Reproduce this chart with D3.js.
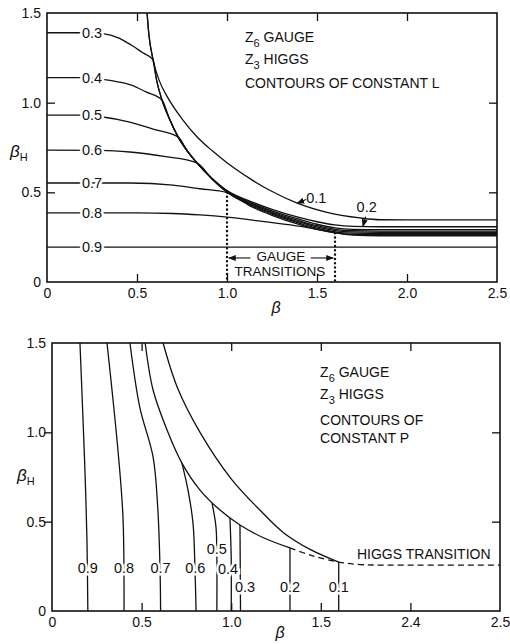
<!DOCTYPE html>
<html>
<head>
<meta charset="utf-8">
<script src="https://cdn.jsdelivr.net/npm/d3@7"></script>
<style>
  body { margin: 0; background: #fff; }
  svg text { font-family: "Liberation Sans", Arial, sans-serif; fill: #111; }
</style>
</head>
<body>
<svg id="fig" width="510" height="644"></svg>
<script>

// ---- axis ticks / labels ----
var xTickVals = [0, 0.5, 1.0, 1.5, 2.0, 2.5];
var topXLabels = ["0", "0.5", "1.0", "1.5", "2.0", "2.5"];
var botXLabels = ["0", "0.5", "1.0", "1.5", "2.4", "2.5"];   // as printed in the original
var yTickVals = [0, 0.5, 1.0, 1.5];
var yLabels = ["0", "0.5", "1.0", "1.5"];
var innerX = [0.5, 1.0, 1.5, 2.0];
var innerY = [0.5, 1.0];

// ---- top panel: contours of constant L  [beta, betaH] ----
var L01 = [[0.556,1.5],[0.566,1.38],[0.589,1.24],[0.625,1.12],[0.667,1.035],[0.75,0.91],[0.833,0.81],[0.92,0.73],[1.0,0.665],[1.13,0.575],[1.24,0.51],[1.39,0.44],[1.55,0.39],[1.74,0.357],[1.85,0.347],[2.0,0.346],[2.5,0.346]];
var L02 = [[0.556,1.5],[0.566,1.38],[0.589,1.24],[0.61,1.12],[0.639,1.015],[0.68,0.91],[0.728,0.809],[0.78,0.73],[0.833,0.664],[0.92,0.575],[1.0,0.51],[1.13,0.45],[1.25,0.405],[1.4,0.36],[1.5,0.336],[1.6,0.318],[1.7,0.31],[1.85,0.308],[2.5,0.308]];
var L03 = [[0,1.39],[0.2,1.39],[0.31,1.385],[0.4,1.36],[0.47,1.32],[0.53,1.28],[0.589,1.24],[0.61,1.12],[0.639,1.015],[0.68,0.91],[0.728,0.809],[0.78,0.73],[0.833,0.664],[0.92,0.574],[1.0,0.507],[1.13,0.443],[1.25,0.397],[1.4,0.35],[1.5,0.322],[1.6,0.302],[1.7,0.294],[1.85,0.292],[2.5,0.292]];
var L04 = [[0,1.14],[0.2,1.14],[0.31,1.13],[0.4,1.115],[0.46,1.1],[0.55,1.06],[0.639,1.015],[0.68,0.91],[0.728,0.809],[0.78,0.73],[0.833,0.664],[0.92,0.573],[1.0,0.505],[1.13,0.438],[1.25,0.39],[1.4,0.342],[1.5,0.314],[1.6,0.294],[1.7,0.286],[1.85,0.284],[2.5,0.284]];
var L05 = [[0,0.93],[0.2,0.93],[0.31,0.92],[0.46,0.892],[0.6,0.85],[0.728,0.809],[0.78,0.73],[0.833,0.664],[0.92,0.572],[1.0,0.502],[1.13,0.433],[1.25,0.384],[1.4,0.335],[1.5,0.307],[1.6,0.287],[1.7,0.279],[1.85,0.277],[2.5,0.277]];
var L06 = [[0,0.735],[0.3,0.734],[0.46,0.725],[0.65,0.7],[0.833,0.664],[0.92,0.571],[1.0,0.5],[1.13,0.428],[1.25,0.378],[1.4,0.328],[1.5,0.3],[1.6,0.28],[1.7,0.272],[1.85,0.27],[2.5,0.27]];
var L07 = [[0,0.552],[0.46,0.552],[0.7,0.54],[0.85,0.52],[1.0,0.498],[1.13,0.423],[1.25,0.372],[1.4,0.321],[1.5,0.293],[1.6,0.274],[1.7,0.266],[1.85,0.264],[2.5,0.264]];
var L08 = [[0,0.385],[0.5,0.385],[0.7,0.382],[0.85,0.374],[1.0,0.362],[1.22,0.335],[1.41,0.31],[1.6,0.275],[1.7,0.262],[1.85,0.258],[2.5,0.258]];
var L09 = [[0,0.195],[2.5,0.195]];
var lLines = [L01, L02, L03, L04, L05, L06, L07, L08, L09];
// label text, beta, betaH
var lLabels = [["0.3",0.25,1.39],["0.4",0.25,1.14],["0.5",0.25,0.93],["0.6",0.25,0.735],["0.7",0.25,0.552],["0.8",0.25,0.385],["0.9",0.25,0.195]];
var gaugeBeta = [1.0, 1.6];
var gaugeTop = [0.5, 0.273];

// ---- bottom panel: contours of constant P ----
var P01 = [[1.6,0.274],[1.6,0]];
var P02 = [[1.328,0.353],[1.328,0]];
var P03 = [[1.049,0.481],[1.052,0]];
var P04 = [[0.993,0.52],[1.0,0.3],[1.0,0]];
var P05 = [[0.893,0.604],[0.915,0.47],[0.92,0.3],[0.92,0]];
var P06 = [[0.725,0.828],[0.759,0.677],[0.787,0.49],[0.798,0.23],[0.804,0]];
var P07 = [[0.435,1.5],[0.49,1.14],[0.564,0.862],[0.59,0.58],[0.603,0.23],[0.606,0]];
var P08 = [[0.307,1.5],[0.368,0.9],[0.396,0.526],[0.402,0]];
var P09 = [[0.156,1.5],[0.172,1.1],[0.185,0.75],[0.195,0.4],[0.2,0]];
var pInner = [[0.52,1.5],[0.564,1.237],[0.642,1.013],[0.725,0.828],[0.826,0.677],[0.9375,0.565],[1.049,0.481],[1.18,0.41],[1.328,0.353]];
var pOuter = [[0.62,1.5],[0.7,1.25],[0.826,1.0],[1.0,0.74],[1.16,0.565],[1.29,0.44],[1.44,0.345],[1.6,0.274]];
var higgs = [[1.328,0.353],[1.45,0.31],[1.6,0.274],[1.72,0.26],[1.85,0.257],[2.5,0.257]];
var pLines = [P01, P02, P03, P04, P05, P06, P07, P08, P09, pInner, pOuter];
var pLabels = [["0.9",0.2,0.24],["0.8",0.402,0.24],["0.7",0.606,0.24],["0.6",0.8,0.24],["0.5",0.92,0.35],["0.4",0.982,0.235],["0.3",1.077,0.134],["0.2",1.328,0.134],["0.1",1.6,0.134]];

var svg = d3.select("#fig");

function drawFrame(g, x, y, xLabels, leftOut) {

    // inward ticks on top / bottom / right
    g.append("g").attr("transform", "translate(0," + y(0) + ")")
        .call(d3.axisBottom(x).tickValues(innerX).tickSize(-8).tickFormat(""));
    g.append("g").attr("transform", "translate(0," + y(1.5) + ")")
        .call(d3.axisTop(x).tickValues(innerX).tickSize(-8).tickFormat(""));
    g.append("g").attr("transform", "translate(" + x(2.5) + ",0)")
        .call(d3.axisRight(y).tickValues(innerY).tickSize(-8).tickFormat(""));
    g.append("g").attr("transform", "translate(" + x(0) + ",0)")
        .call(d3.axisLeft(y).tickValues(innerY).tickSize(leftOut ? 8 : -8).tickFormat(""));

    // labels
    g.append("g").attr("transform", "translate(0," + y(0) + ")")
        .call(d3.axisBottom(x).tickValues(xTickVals).tickSize(0).tickPadding(6)
            .tickFormat(function(d, i) { return xLabels[i]; }));
    g.append("g").attr("transform", "translate(" + x(0) + ",0)")
        .call(d3.axisLeft(y).tickValues(yTickVals).tickSize(0).tickPadding(6)
            .tickFormat(function(d, i) { return yLabels[i]; }));

    g.selectAll(".domain").remove();
    g.selectAll(".tick line").attr("stroke", "#111").attr("stroke-width", 1.3);
    g.selectAll(".tick text").attr("font-size", 14).attr("font-family", "Liberation Sans, Arial, sans-serif").attr("fill", "#111");

    g.append("rect")
        .attr("x", x(0)).attr("y", y(1.5))
        .attr("width", x(2.5) - x(0)).attr("height", y(0) - y(1.5))
        .attr("fill", "none").attr("stroke", "#111").attr("stroke-width", 1.6);
}

function betaH(g, px, py) {
    var t = g.append("text").attr("x", px).attr("y", py)
        .attr("font-size", 17).attr("font-style", "italic")
        .attr("font-family", "DejaVu Serif, serif");
    t.append("tspan").text("β");
    t.append("tspan").attr("dy", 4).attr("font-size", 11).attr("font-style", "normal")
        .attr("font-family", "Liberation Sans, Arial, sans-serif").text("H");
}

function zText(g, px, py, sub, rest) {
    var t = g.append("text").attr("x", px).attr("y", py).attr("font-size", 14);
    t.append("tspan").text("Z");
    t.append("tspan").attr("dy", 5).attr("font-size", 11).text(sub);
    t.append("tspan").attr("dy", -5).text("\u00a0" + rest);
}

function haloLabel(g, txt, px, py) {
    g.append("text").attr("x", px).attr("y", py).attr("dy", "0.36em")
        .attr("text-anchor", "middle").attr("font-size", 14.5)
        .attr("stroke", "#fff").attr("stroke-width", 5).attr("paint-order", "stroke")
        .text(txt);
}

// ================= top panel =================
var x1 = d3.scaleLinear().domain([0, 2.5]).range([47, 497]);
var y1 = d3.scaleLinear().domain([0, 1.5]).range([282, 13]);
var g1 = svg.append("g");

var line1 = d3.line()
    .x(function(d) { return x1(d[0]); })
    .y(function(d) { return y1(d[1]); })
    .curve(d3.curveMonotoneX);

g1.selectAll("path.lc").data(lLines).enter().append("path")
    .attr("class", "lc")
    .attr("d", line1)
    .attr("fill", "none").attr("stroke", "#111").attr("stroke-width", 1.3);

// dotted gauge transition lines
g1.selectAll("line.gt").data(gaugeBeta).enter().append("line")
    .attr("class", "gt")
    .attr("x1", function(d) { return x1(d); }).attr("x2", function(d) { return x1(d); })
    .attr("y1", function(d, i) { return y1(gaugeTop[i]); }).attr("y2", y1(0))
    .attr("stroke", "#111").attr("stroke-width", 2.4)
    .attr("stroke-linecap", "round").attr("stroke-dasharray", "0.1,4.2");

lLabels.forEach(function(d) { haloLabel(g1, d[0], x1(d[1]), y1(d[2])); });

drawFrame(g1, x1, y1, topXLabels, false);

// arrow markers
var defs = svg.append("defs");
defs.append("marker").attr("id", "ah").attr("viewBox", "0 0 10 10")
    .attr("refX", 9).attr("refY", 5).attr("markerWidth", 7).attr("markerHeight", 7)
    .attr("orient", "auto-start-reverse")
    .append("path").attr("d", "M0,1 L10,5 L0,9 Z").attr("fill", "#111");

function arrow(g, xa, ya, xb, yb) {
    g.append("line").attr("x1", xa).attr("y1", ya).attr("x2", xb).attr("y2", yb)
        .attr("stroke", "#111").attr("stroke-width", 1.1).attr("marker-end", "url(#ah)");
}

// gauge transitions annotation
arrow(g1, x1(1.13), y1(0.134), x1(1.01), y1(0.134));
arrow(g1, x1(1.465), y1(0.134), x1(1.59), y1(0.134));
g1.append("text").attr("x", x1(1.3)).attr("y", y1(0.118)).attr("text-anchor", "middle")
    .attr("font-size", 13.5).text("GAUGE");
g1.append("text").attr("x", x1(1.294)).attr("y", y1(0.036)).attr("text-anchor", "middle")
    .attr("font-size", 13.5).text("TRANSITIONS");

// 0.1 / 0.2 labels
g1.append("text").attr("x", x1(1.44)).attr("y", y1(0.44)).attr("font-size", 14.5).text("0.1");
arrow(g1, x1(1.44), y1(0.46), x1(1.39), y1(0.44));
g1.append("text").attr("x", x1(1.72)).attr("y", y1(0.39)).attr("font-size", 14.5).text("0.2");
arrow(g1, x1(1.77), y1(0.365), x1(1.755), y1(0.31));

zText(g1, x1(1.1), y1(1.339), "6", "GAUGE");
zText(g1, x1(1.1), y1(1.216), "3", "HIGGS");
g1.append("text").attr("x", x1(1.1)).attr("y", y1(1.082)).attr("font-size", 14)
    .text("CONTOURS OF CONSTANT L");

betaH(g1, 10, 157);
g1.append("text").attr("x", 276).attr("y", 313).attr("text-anchor", "middle")
    .attr("font-size", 16).attr("font-style", "italic").attr("font-family", "DejaVu Serif, serif")
    .text("β");

// ================= bottom panel =================
var x2 = d3.scaleLinear().domain([0, 2.5]).range([52, 500]);
var y2 = d3.scaleLinear().domain([0, 1.5]).range([611, 343]);
var g2 = svg.append("g");

var line2 = d3.line()
    .x(function(d) { return x2(d[0]); })
    .y(function(d) { return y2(d[1]); })
    .curve(d3.curveCatmullRom.alpha(0.5));

g2.selectAll("path.pc").data(pLines).enter().append("path")
    .attr("class", "pc")
    .attr("d", line2)
    .attr("fill", "none").attr("stroke", "#111").attr("stroke-width", 1.3);

g2.append("path").datum(higgs)
    .attr("d", line2)
    .attr("fill", "none").attr("stroke", "#111").attr("stroke-width", 1.3)
    .attr("stroke-dasharray", "6,4");

pLabels.forEach(function(d) { haloLabel(g2, d[0], x2(d[1]), y2(d[2])); });

drawFrame(g2, x2, y2, botXLabels, true);

zText(g2, x2(1.496), y2(1.309), "6", "GAUGE");
zText(g2, x2(1.496), y2(1.186), "3", "HIGGS");
g2.append("text").attr("x", x2(1.496)).attr("y", y2(1.041)).attr("font-size", 14).text("CONTOURS OF");
g2.append("text").attr("x", x2(1.496)).attr("y", y2(0.94)).attr("font-size", 14).text("CONSTANT P");
g2.append("text").attr("x", x2(1.702)).attr("y", y2(0.291)).attr("font-size", 14).text("HIGGS TRANSITION");

betaH(g2, 17, 481);
g2.append("text").attr("x", 280).attr("y", 638).attr("text-anchor", "middle")
    .attr("font-size", 16).attr("font-style", "italic").attr("font-family", "DejaVu Serif, serif")
    .text("β");

</script>
</body>
</html>
